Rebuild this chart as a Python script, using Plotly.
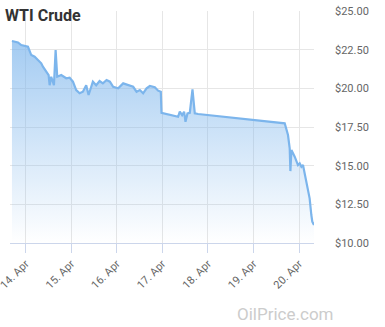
import plotly.graph_objects as go

times = [
    "2020-04-13 16:47", "2020-04-13 19:57", "2020-04-13 21:40", "2020-04-13 23:30",
    "2020-04-14 01:13", "2020-04-14 02:57", "2020-04-14 04:44", "2020-04-14 06:28",
    "2020-04-14 08:13", "2020-04-14 09:06", "2020-04-14 10:50", "2020-04-14 12:06",
    "2020-04-14 12:38", "2020-04-14 13:28", "2020-04-14 14:54", "2020-04-14 15:47",
    "2020-04-14 16:38", "2020-04-14 18:44", "2020-04-14 21:22", "2020-04-14 23:09",
    "2020-04-15 00:54", "2020-04-15 02:38", "2020-04-15 04:25", "2020-04-15 06:09",
    "2020-04-15 07:54", "2020-04-15 09:09", "2020-04-15 11:25", "2020-04-15 13:09",
    "2020-04-15 14:57", "2020-04-15 16:41", "2020-04-15 18:38", "2020-04-15 20:22",
    "2020-04-15 22:06", "2020-04-16 00:44", "2020-04-16 03:22", "2020-04-16 06:00",
    "2020-04-16 08:38", "2020-04-16 10:25", "2020-04-16 12:09", "2020-04-16 13:53",
    "2020-04-16 15:41", "2020-04-16 17:25", "2020-04-16 20:03", "2020-04-16 21:47",
    "2020-04-16 23:12", "2020-04-16 23:34", "2020-04-17 08:18", "2020-04-17 09:12",
    "2020-04-17 10:25", "2020-04-17 11:28", "2020-04-17 12:12", "2020-04-17 13:15",
    "2020-04-17 14:28", "2020-04-17 15:53", "2020-04-17 17:06", "2020-04-17 18:50",
    "2020-04-19 16:28", "2020-04-19 18:12", "2020-04-19 19:06", "2020-04-19 19:28",
    "2020-04-19 20:00", "2020-04-19 21:44", "2020-04-19 23:28", "2020-04-20 00:22",
    "2020-04-20 01:15", "2020-04-20 02:06", "2020-04-20 03:00", "2020-04-20 03:54",
    "2020-04-20 04:44", "2020-04-20 05:36", "2020-04-20 06:30", "2020-04-20 07:00",
    "2020-04-20 07:54",
]
prices = [
    23.06, 22.97, 22.80, 22.74,
    22.69, 22.15, 22.04, 21.83,
    21.62, 21.40, 21.07, 20.86,
    20.20, 20.75, 20.20, 22.48,
    20.75, 20.86, 20.65, 20.69,
    20.43, 19.89, 19.68, 19.78,
    20.20, 19.57, 20.43, 20.20,
    20.47, 20.32, 20.54, 20.43,
    20.10, 20.00, 20.32, 20.20,
    20.10, 19.78, 19.89, 19.68,
    20.00, 20.15, 20.07, 19.85,
    19.78, 18.42, 18.16, 18.49,
    18.27, 18.49, 17.84, 18.38,
    18.42, 19.94, 18.38, 18.34,
    17.74, 16.98, 16.12, 14.65,
    16.01, 15.58, 15.04, 15.15,
    14.93, 15.04, 14.50, 14.07,
    13.53, 12.89, 11.81, 11.38,
    11.16,
]
y_ticks = [10, 12.5, 15, 17.5, 20, 22.5, 25]
y_labels = ["$10.00", "$12.50", "$15.00", "$17.50", "$20.00", "$22.50", "$25.00"]

fig = go.Figure()
fig.add_trace(go.Scatter(
    x=times, y=prices, mode="lines",
    line=dict(color="#7cb5ec", width=2.2),
    fill="tozeroy",
    fillgradient=dict(type="vertical", start=10, stop=23.1,
                      colorscale=[[0, "rgba(124,181,236,0.0)"], [1, "rgba(124,181,236,0.7)"]]),
    hoverinfo="skip",
))

fig.update_layout(
    width=385, height=327,
    margin=dict(l=10, r=71, t=11, b=84),
    paper_bgcolor="white", plot_bgcolor="white",
    font=dict(family="Roboto, sans-serif", color="#666666", size=11),
    showlegend=False,
    xaxis=dict(
        type="date",
        range=["2020-04-13 15:45", "2020-04-20 07:54"],
        tick0="2020-04-14", dtick=86400000,
        tickformat="%-d. %b",
        tickangle=-45,
        ticklabeloverflow="allow",
        automargin=False,
        showgrid=True, gridcolor="#e6e6e6", gridwidth=1,
        showline=True, linecolor="#ccd6eb", linewidth=1,
        ticks="outside", ticklen=9, tickcolor="#ccd6eb",
        tickfont=dict(size=11, color="#666666"),
        zeroline=False,
    ),
    yaxis=dict(
        side="right",
        range=[10, 25],
        automargin=False,
        tickvals=y_ticks, ticktext=y_labels,
        showgrid=True, gridcolor="#e6e6e6", gridwidth=1,
        zeroline=False, showline=False,
        ticks="", ticklabelstandoff=20,
        tickfont=dict(size=11, color="#666666"),
    ),
    annotations=[
        dict(text="<b>WTI Crude</b>", x=0, y=1, xref="paper", yref="paper",
             xanchor="left", yanchor="top", showarrow=False,
             font=dict(size=16, color="#333333", family="Roboto, sans-serif"),
             xshift=-7, yshift=7),
        dict(text="OilPrice.com", x=1, y=0, xref="paper", yref="paper",
             xanchor="right", yanchor="middle", showarrow=False,
             font=dict(size=17, color="#cccccc", family="Roboto, sans-serif"),
             xshift=21, yshift=-71),
    ],
)

fig.write_html("out.html")
